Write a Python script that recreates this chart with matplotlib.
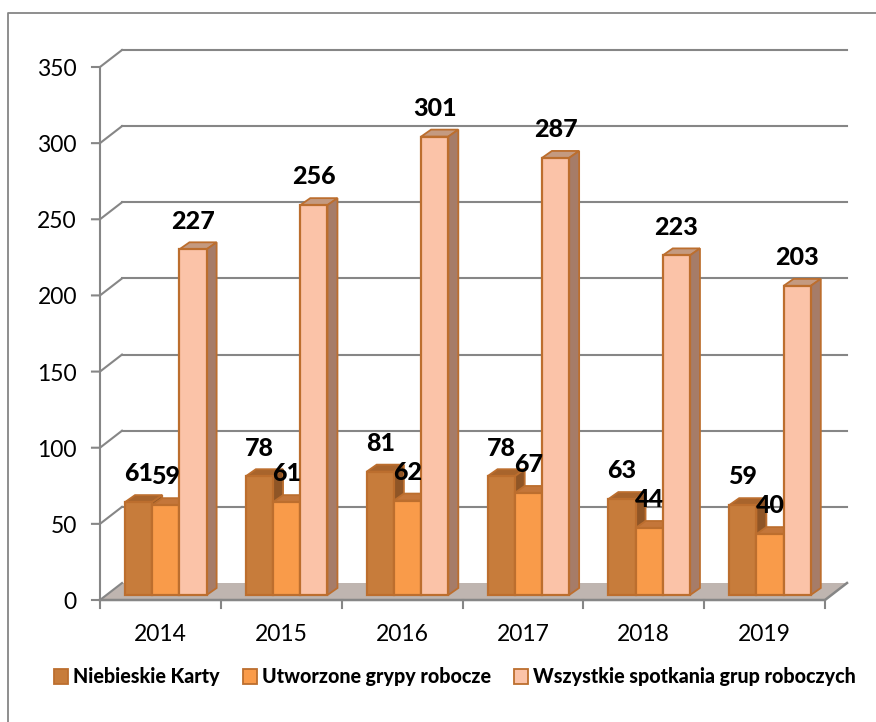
import matplotlib
matplotlib.use('Agg')
import matplotlib.pyplot as plt
from matplotlib.patches import Polygon, Patch
from matplotlib.lines import Line2D

plt.rcParams['font.family'] = ['Lato', 'DejaVu Sans']

years = ['2014', '2015', '2016', '2017', '2018', '2019']
niebieskie = [61, 78, 81, 78, 63, 59]
grupy = [59, 61, 62, 67, 44, 40]
spotkania = [227, 256, 301, 287, 223, 203]
series_names = ['Niebieskie Karty', 'Utworzone grypy robocze', 'Wszystkie spotkania grup roboczych']
y_ticks = [0, 50, 100, 150, 200, 250, 300, 350]

# kolory: front, gora, bok
colors = [('#C77C3B', '#A8642C', '#8F5526'),
          ('#F99B4A', '#C4763A', '#A4652F'),
          ('#FBC3A8', '#C49A80', '#A67C68')]
edge = '#BC6E2E'
grid_c = '#868686'

fig = plt.figure(figsize=(8.76, 7.22), dpi=100)
ax = fig.add_axes([100/876, (722-600)/722, 725/876, 533/722])
ax.set_xlim(0, 6)
ax.set_ylim(0, 350)
ax.axis('off')

# ramka
fig.add_artist(Line2D([8/876, 8/876, 1], [0, 1-13/722, 1-13/722], color='#868686', lw=1.3))

dx = 22/120.8   # glebokosc sciany
dy = 17/1.523
bw = 27.2/120.8
b0 = 25/120.8
bar_dx = 10/120.8
bar_dy = 7/1.523
lift = 5/1.523

# podloga
ax.add_patch(Polygon([(0, 0), (6, 0), (6+dx, dy), (dx, dy)], fc='#BFB5B0', ec='none', clip_on=False, zorder=1))

for v in y_ticks:
    if v > 0:
        ax.plot([dx, 6+dx], [v+dy, v+dy], color=grid_c, lw=1.5, clip_on=False, zorder=1.5)
    ax.plot([-8/120.8, 0, dx], [v, v, v+dy], color=grid_c, lw=1.5, clip_on=False, zorder=2)
    ax.text(-23/120.8, v - 2.5/1.523, str(v), ha='right', va='center', fontsize=16.5, color='black')

ax.plot([0, 0], [0, 350], color=grid_c, lw=1.5, clip_on=False, zorder=2)
ax.plot([0, 6, 6+dx], [0, 0, dy], color=grid_c, lw=1.8, clip_on=False, zorder=2)
for i in range(7):
    ax.plot([i, i], [0, -8/1.523], color=grid_c, lw=1.5, clip_on=False, zorder=2)
for i, y in enumerate(years):
    ax.text(i+0.5, -35/1.523, y, ha='center', va='center', fontsize=16.5, color='black')

all_series = [niebieskie, grupy, spotkania]
z = 3
for i in range(len(years)):
    for s, vals in enumerate(all_series):
        x0 = i + b0 + s*bw
        x1 = x0 + bw
        top = lift + vals[i]
        fc, tc, sc = colors[s]
        ax.add_patch(Polygon([(x0, top), (x1, top), (x1+bar_dx, top+bar_dy), (x0+bar_dx, top+bar_dy)],
                             fc=tc, ec=edge, lw=1.3, clip_on=False, zorder=z))
        ax.add_patch(Polygon([(x1, lift), (x1+bar_dx, lift+bar_dy), (x1+bar_dx, top+bar_dy), (x1, top)],
                             fc=sc, ec=edge, lw=1.3, clip_on=False, zorder=z))
        ax.add_patch(Polygon([(x0, lift), (x1, lift), (x1, top), (x0, top)],
                             fc=fc, ec=edge, lw=1.6, clip_on=False, zorder=z+0.5))
        z += 1

for i in range(len(years)):
    for s, vals in enumerate(all_series):
        xc = i + b0 + s*bw + bw/2
        ax.text(xc, lift + vals[i] + 18.5, str(vals[i]), ha='center', va='center',
                fontsize=18, fontweight='black', color='black', zorder=100)

handles = [Patch(fc=colors[s][0], ec=edge, lw=1.3) for s in range(3)]
fig.legend(handles, series_names, loc='center', bbox_to_anchor=(455/876, 1-677/722), ncol=3,
           frameon=False, prop={'size': 14.1, 'weight': 'black'}, handlelength=0.7, handleheight=0.8,
           handletextpad=0.25, columnspacing=1.2)

fig.savefig('out.png', dpi=100)
